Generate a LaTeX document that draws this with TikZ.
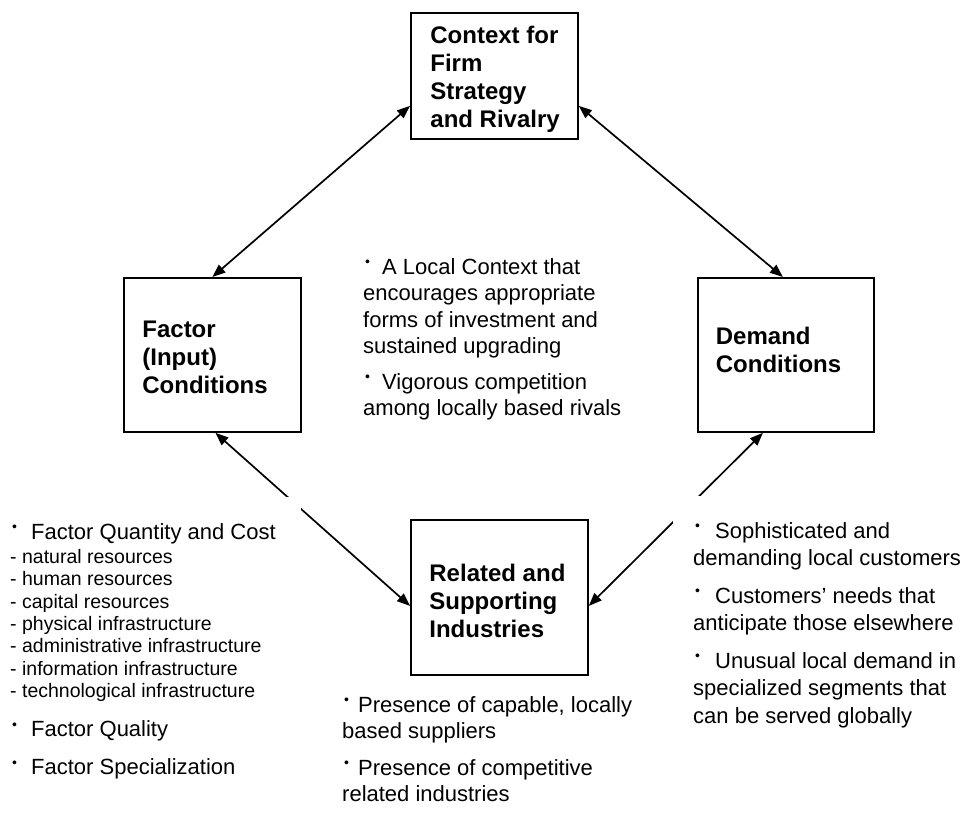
\documentclass[tikz,border=0pt]{standalone}
\usepackage{fontspec}
\setmainfont{Liberation Sans}
\usetikzlibrary{arrows.meta}
\setlength{\parindent}{0pt}
\newcommand\bul[1][20pt]{\makebox[#1][l]{\hspace{2pt}\raisebox{7.5pt}{\fontsize{14}{14}\selectfont\textbullet}}}
\newcommand\rsp{\spaceskip=0pt\xspaceskip=0pt\relax}
\begin{document}
\begin{tikzpicture}[x=1pt,y=-1pt,
  box/.style={draw,line width=1.8pt,minimum width=177pt,minimum height=154pt,anchor=north west,
    text width=140pt,align=left,inner sep=0pt,font=\fontsize{24}{28}\selectfont\bfseries},
  link/.style={line width=1.7pt,{Triangle[length=13pt,width=10pt]}-{Triangle[length=13pt,width=10pt]}},
  txt/.style={anchor=north west,align=left,inner sep=0pt}
]
\useasboundingbox (0,0) rectangle (963,834);

% boxes
\node[box,minimum width=167pt,minimum height=126pt,text width=128pt] (top) at (410,12) {\rsp\rule{0pt}{25pt}\mbox{Context for}\\Firm\\Strategy\\\mbox{and Rivalry}};
\node[box] (fac) at (123,277) {\rsp\rule{0pt}{22pt}Factor\\(Input)\\Conditions};
\node[box,minimum width=176pt] (dem) at (697,277) {\rsp Demand\\Conditions\rule[-10.5pt]{0pt}{10.5pt}};
\node[box,minimum height=155pt] (rel) at (410,519) {\rsp\rule{0pt}{24pt}\mbox{Related and}\\Supporting\\Industries};

% connectors
\draw[link] ([yshift=-30pt]top.west) -- (fac.north);
\draw[link] ([yshift=-30pt]top.east) -- ([xshift=-3pt]dem.north);
\draw[link] ([xshift=3pt]fac.south) -- ([yshift=-8.5pt]rel.west);
\draw[link] ([xshift=-23pt]dem.south) -- ([yshift=-8.5pt]rel.east);

% centre text
\node[txt,text width=280pt] (ctx) at (363,255.45) {\fontsize{22}{26.5}\selectfont\rsp
\strut\bul[19pt]A Local Context that\\encourages appropriate\\forms of investment and\\sustained upgrading\par
\vspace{9pt}
\bul[19pt]Vigorous competition\\among locally based rivals\par};

% left text (factor)
\node[txt,fill=white,text width=287pt,inner xsep=4pt,inner ysep=23.8pt] (ftx) at (6,497) {\fontsize{22}{26}\selectfont\rsp
\strut\bul[21pt]Factor Quantity and Cost\par
\vspace{1.6pt}
{\fontsize{19.5}{22.4}\selectfont\rsp - natural resources\\- human resources\\- capital resources\\- physical infrastructure\\- administrative infrastructure\\- information infrastructure\\- technological infrastructure\par}
\vspace{13pt}
\bul[21pt]Factor Quality\par
\vspace{12pt}
\bul[21pt]Factor Specialization\par};

% right text (demand)
\node[txt,fill=white,text width=300pt,inner xsep=20pt,inner ysep=22.75pt] (dtx) at (673,496) {\fontsize{22}{27.5}\selectfont\rsp
\strut\bul[22pt]Sophisticated and\\demanding local customers\par
\vspace{10pt}
\bul[22pt]Customers’ needs that\\anticipate those elsewhere\par
\vspace{10pt}
\bul[22pt]Unusual local demand in\\specialized segments that\\can be served globally\par};

% bottom text (related)
\node[txt,text width=300pt] (rtx) at (342,693.8) {\fontsize{22}{26}\selectfont\rsp
\strut\bul[16pt]Presence of capable, locally\\based suppliers\par
\vspace{11pt}
\bul[16pt]Presence of competitive\\related industries\par};
\end{tikzpicture}
\end{document}
